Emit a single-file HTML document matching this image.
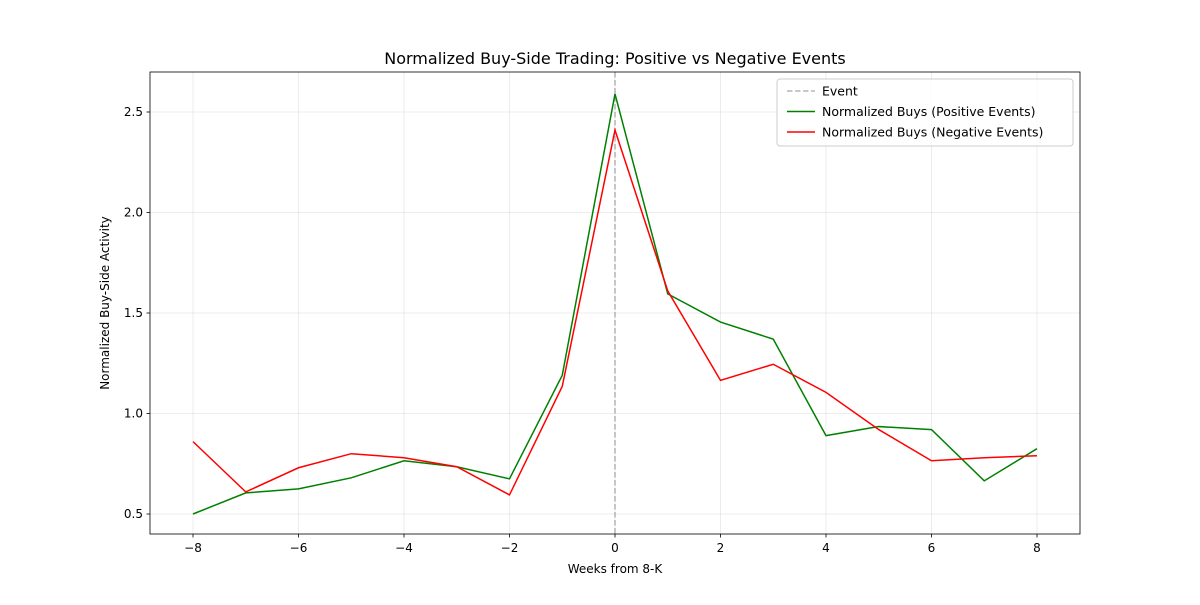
<!DOCTYPE html>
<html><head><meta charset="utf-8"><style>
body{margin:0;background:#fff;font-family:"Liberation Sans","DejaVu Sans",sans-serif}
</style></head><body>
<svg id="c" width="1200" height="600" xmlns="http://www.w3.org/2000/svg" font-family="DejaVu Sans, Liberation Sans, sans-serif"></svg>
<script>
const weeks=[-8,-7,-6,-5,-4,-3,-2,-1,0,1,2,3,4,5,6,7,8];
const positiveBuys=[0.50,0.605,0.625,0.68,0.765,0.735,0.675,1.19,2.59,1.595,1.455,1.37,0.89,0.935,0.92,0.665,0.825];
const negativeBuys=[0.86,0.61,0.73,0.80,0.78,0.735,0.595,1.135,2.41,1.61,1.165,1.245,1.105,0.92,0.765,0.78,0.79];
const xTicks=[-8,-6,-4,-2,0,2,4,6,8];
const yTicks=[0.5,1.0,1.5,2.0,2.5];
const X=v=>615+v*52.75, Y=v=>514-(v-0.5)*201;
const svg=document.getElementById('c');
const NS='http://www.w3.org/2000/svg';
function mk(t,a,p){const e=document.createElementNS(NS,t);for(const k in a)e.setAttribute(k,a[k]);(p||svg).appendChild(e);return e;}
const L=150,R=1080,T=72,B=534;
// grid
xTicks.forEach(v=>{const g=mk('line',{x1:X(v),x2:X(v),y1:T,y2:B,stroke:'#b0b0b0','stroke-width':0.8,'stroke-opacity':0.3});
});
yTicks.forEach(v=>{const g=mk('line',{x1:L,x2:R,y1:Y(v),y2:Y(v),stroke:'#b0b0b0','stroke-width':0.8,'stroke-opacity':0.3});
});
// event line
const ev=mk('line',{x1:X(0),x2:X(0),y1:T,y2:B,stroke:'#999','stroke-width':1.5,'stroke-dasharray':'5.5,2.5','stroke-opacity':0.7});

function series(vals,color,name){const p=mk('polyline',{points:weeks.map((w,i)=>X(w)+','+Y(vals[i])).join(' '),fill:'none',stroke:color,'stroke-width':1.5});
}
series(positiveBuys,'green','positive-events-line');
series(negativeBuys,'red','negative-events-line');
const fr=mk('rect',{x:L,y:T,width:R-L,height:B-T,fill:'none',stroke:'#000','stroke-width':0.8});

xTicks.forEach(v=>{mk('line',{x1:X(v),x2:X(v),y1:B,y2:B+3.5,stroke:'#000','stroke-width':0.8});
const t=mk('text',{x:X(v),y:B+18,'text-anchor':'middle','font-size':12});t.textContent=(v<0?'\u2212'+(-v):v);
});
yTicks.forEach(v=>{mk('line',{x1:L-3.5,x2:L,y1:Y(v),y2:Y(v),stroke:'#000','stroke-width':0.8});
const t=mk('text',{x:L-7,y:Y(v)+4,'text-anchor':'end','font-size':12});t.textContent=v.toFixed(1);
});
let t=mk('text',{x:615,y:64,'text-anchor':'middle','font-size':16});t.textContent='Normalized Buy-Side Trading: Positive vs Negative Events';

t=mk('text',{x:615,y:573,'text-anchor':'middle','font-size':12});t.textContent='Weeks from 8-K';

t=mk('text',{x:109,y:303,'text-anchor':'middle','font-size':12,transform:'rotate(-90 109 303)'});t.textContent='Normalized Buy-Side Activity';

// legend
const lg=mk('g',{});
mk('rect',{x:777,y:79,width:296,height:67,rx:3,fill:'#fff','fill-opacity':0.8,stroke:'#ccc'},lg);
const items=[['Event','#999','5.5,2.5','legend-entry-event'],['Normalized Buys (Positive Events)','green','','legend-entry-positive'],['Normalized Buys (Negative Events)','red','','legend-entry-negative']];
items.forEach((it,i)=>{const y=91+i*20.5;const g=mk('g',{},lg);
const a={x1:787,x2:815,y1:y,y2:y,stroke:it[1],'stroke-width':1.5};if(it[2]){a['stroke-dasharray']=it[2];a['stroke-opacity']=0.7;}mk('line',a,g);
const tx=mk('text',{x:822,y:y+4.5,'font-size':12.5},g);tx.textContent=it[0];});
</script>
</body></html>
